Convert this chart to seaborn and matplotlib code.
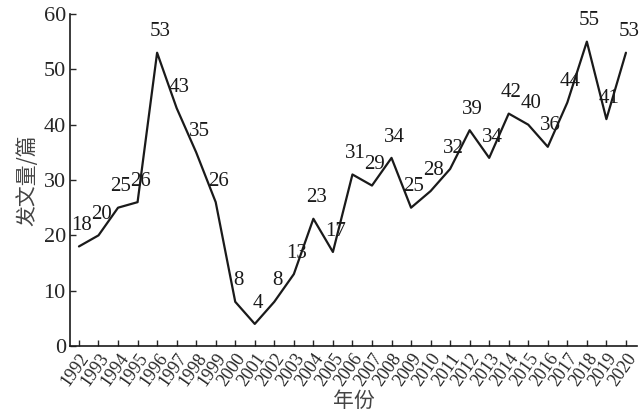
import matplotlib
matplotlib.use("Agg")
import matplotlib.pyplot as plt
import seaborn as sns
import pandas as pd

# data
years = list(range(1992, 2021))
counts = [18, 20, 25, 26, 53, 43, 35, 26, 8, 4, 8, 13, 23, 17, 31,
          29, 34, 25, 28, 32, 39, 34, 42, 40, 36, 44, 55, 41, 53]

df = pd.DataFrame({"year": years, "count": counts})

sns.set_style("ticks")
plt.rcParams['font.family'] = ['Liberation Serif', 'Noto Sans CJK SC']
plt.rcParams['xtick.direction'] = 'in'
plt.rcParams['ytick.direction'] = 'in'

fig = plt.figure(figsize=(6.42, 4.11), dpi=100)
ax = fig.add_axes([0.109, 0.158, 0.883, 0.808])

sns.lineplot(data=df, x="year", y="count", ax=ax, color="#1a1a1a", linewidth=1.6)

# value labels above each point
for x, y in zip(years, counts):
    ax.annotate(str(y), (x, y), xytext=(2, 15), textcoords="offset points",
                ha="center", va="center", fontsize=15, color="#1a1a1a")

ax.set_xlim(1991.54, 2020.56)
ax.set_ylim(0, 60)
ax.set_xticks(years)
ax.set_xticklabels([str(y) for y in years], rotation=55, ha="right",
                   rotation_mode="anchor", fontsize=13)
ax.set_yticks(range(0, 61, 10))
ax.tick_params(axis="y", labelsize=16, length=4, width=1, pad=3)
ax.tick_params(axis="x", length=4, width=1, pad=3)

ax.set_xlabel("年份", fontsize=15, family=['Noto Sans CJK SC'], labelpad=0, color="#444444")
ax.set_ylabel("发文量/篇", fontsize=15, family=['Noto Sans CJK SC'], labelpad=4, color="#444444")

sns.despine(ax=ax)
for s in ["left", "bottom"]:
    ax.spines[s].set_linewidth(1.2)
    ax.spines[s].set_color("#1a1a1a")

fig.savefig("out.png", dpi=100)
